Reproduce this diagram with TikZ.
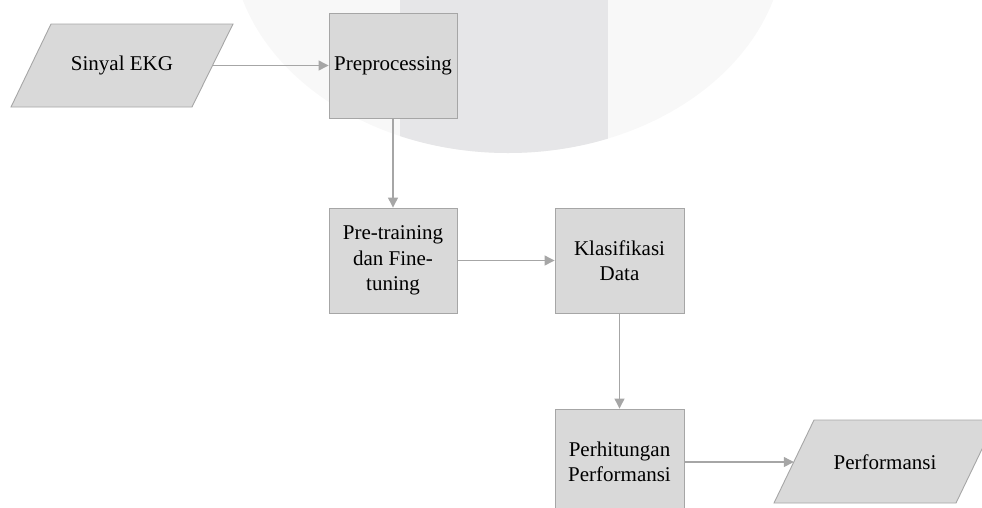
\documentclass[tikz,border=0pt]{standalone}
\usepackage{fontspec}
\setmainfont{Liberation Serif}
\usetikzlibrary{arrows.meta}
\definecolor{boxfill}{HTML}{D9D9D9}
\definecolor{boxline}{HTML}{A6A6A6}
\definecolor{wmlight}{HTML}{F8F8F8}
\definecolor{wmdark}{HTML}{E6E6E8}
\tikzset{
  procbox/.style={draw=boxline, fill=boxfill, line width=0.9pt, minimum height=105pt,
    inner sep=0pt, align=center, font=\fontsize{21}{25.5}\selectfont},
  iobox/.style={draw=boxline, fill=boxfill, line width=0.9pt, line join=miter},
  iotext/.style={inner sep=0pt, font=\fontsize{21}{25.5}\selectfont},
  arr/.style={draw=boxline, line width=1.2pt, -{Triangle[length=10pt,width=10pt]}}
}
\begin{document}
\begin{tikzpicture}[x=1pt,y=-1pt]
\clip (0,0) rectangle (982,507);
\useasboundingbox (0,0) rectangle (982,507);
% watermark
\fill[wmlight] (508,-62) ellipse [x radius=277, y radius=215];
\begin{scope}
  \clip (508,-62) ellipse [x radius=277, y radius=215];
  \fill[wmdark] (400,-10) rectangle (608,200);
\end{scope}
% input parallelogram
\draw[iobox] (51,24) -- (233,24) -- (192,107) -- (11,107) -- cycle;
\node[iotext] (ekg) at (122,65.5) {Sinyal EKG};
\coordinate (ekgR) at (212.5,65.5);
% process boxes
\node[procbox, minimum width=128pt] (pre) at (393,65.5) {Preprocessing};
\node[procbox, minimum width=128pt] (ptr) at (393,260.5) {Pre-training\\dan Fine-\\tuning};
\node[procbox, minimum width=129pt] (kls) at (619.5,260.5) {Klasifikasi\\Data};
\node[procbox, minimum width=129pt, minimum height=106pt] (per) at (619.5,462) {Perhitungan\\Performansi};
% output parallelogram
\draw[iobox] (814,420) -- (996,420) -- (956,503) -- (774,503) -- cycle;
\node[iotext] (out) at (885,462) {Performansi};
\coordinate (outL) at (793.8,462);
% connectors
\draw[arr] (ekgR) -- (pre.west);
\draw[arr] (pre.south) -- (ptr.north);
\draw[arr] (ptr.east) -- (kls.west);
\draw[arr] (kls.south) -- (per.north);
\draw[arr] (per.east) -- (outL);
\end{tikzpicture}
\end{document}
